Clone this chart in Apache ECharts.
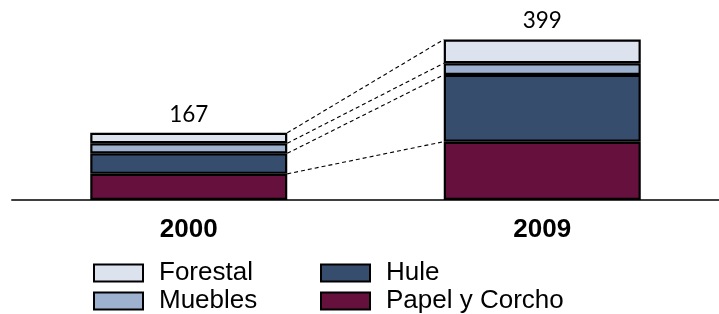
<!DOCTYPE html>
<html>
<head>
<meta charset="utf-8">
<script src="https://cdn.jsdelivr.net/npm/echarts@6/dist/echarts.min.js"></script>
<style>html,body{margin:0;padding:0;background:#fff}#c{width:719px;height:314px}</style>
</head>
<body>
<div id="c"></div>
<script>
const categories = ['2000', '2009'];
const papel = [65, 145];
const hule = [51, 166];
const muebles = [25, 29];
const forestal = [26, 59];
const totals = [167, 399];
const legendNames = ['Forestal', 'Hule', 'Muebles', 'Papel y Corcho'];

const BAR_W = 197;
const colors = { forestal: '#DCE3EE', muebles: '#9EB2D0', hule: '#364D6E', papel: '#65103D' };

// cumulative tops of each segment per year (papel, hule, muebles, forestal)
const layers = [papel, hule, muebles, forestal];
const tops = layers.map((_, k) => categories.map((_, i) => layers.slice(0, k + 1).reduce((s, arr) => s + arr[i], 0)));
const connectorData = tops.map(t => [0, t[0], t[1]]);

const chart = echarts.init(document.getElementById('c'), null, { renderer: 'canvas' });
const barStyle = c => ({ color: c, borderColor: '#000', borderWidth: 2.2 });
const legendPos = [[93, 260], [320, 260], [93, 288], [320, 288]];
const legends = legendNames.map((n, i) => ({
  orient: 'horizontal', left: legendPos[i][0], top: legendPos[i][1], padding: 0,
  itemWidth: 49, itemHeight: 17, icon: 'rect', data: [n],
  textStyle: { fontFamily: 'Liberation Sans', fontSize: 26, color: '#000', lineHeight: 19, padding: [0, 0, 0, 11] },
  itemStyle: { borderColor: '#000', borderWidth: 2 }
}));
chart.setOption({
  animation: false,
  grid: { left: 12, right: -3, top: 19, bottom: 114 },
  legend: legends,
  xAxis: {
    type: 'category', data: categories,
    axisLine: { show: true, lineStyle: { color: '#3f3f3f', width: 2 } },
    axisTick: { show: false },
    axisLabel: { fontFamily: 'Liberation Sans', fontWeight: 'bold', fontSize: 26, color: '#000', margin: 17 }
  },
  yAxis: { type: 'value', min: 0, max: 450, show: false, splitLine: { show: false } },
  series: [
    { name: 'Papel y Corcho', type: 'bar', stack: 'a', barWidth: BAR_W, data: papel, itemStyle: barStyle(colors.papel) },
    { name: 'Hule', type: 'bar', stack: 'a', data: hule, itemStyle: barStyle(colors.hule) },
    { name: 'Muebles', type: 'bar', stack: 'a', data: muebles, itemStyle: barStyle(colors.muebles) },
    { name: 'Forestal', type: 'bar', stack: 'a', data: forestal, itemStyle: barStyle(colors.forestal),
      label: { show: true, position: 'top', distance: 7, formatter: p => String(totals[p.dataIndex]),
        fontFamily: 'Lato', fontSize: 22.5, color: '#000' } },
    { name: 'conn', type: 'custom', silent: true, z: 5,
      encode: { x: 0, y: [1, 2] },
      data: connectorData,
      renderItem: (params, api) => {
        const a = api.coord([0, api.value(1)]);
        const b = api.coord([1, api.value(2)]);
        const hw = BAR_W / 2;
        return { type: 'line', shape: { x1: a[0] + hw, y1: a[1], x2: b[0] - hw, y2: b[1] },
          style: { stroke: '#000', lineWidth: 1.1, lineDash: [4, 3] } };
      } }
  ]
});
</script>
</body>
</html>
